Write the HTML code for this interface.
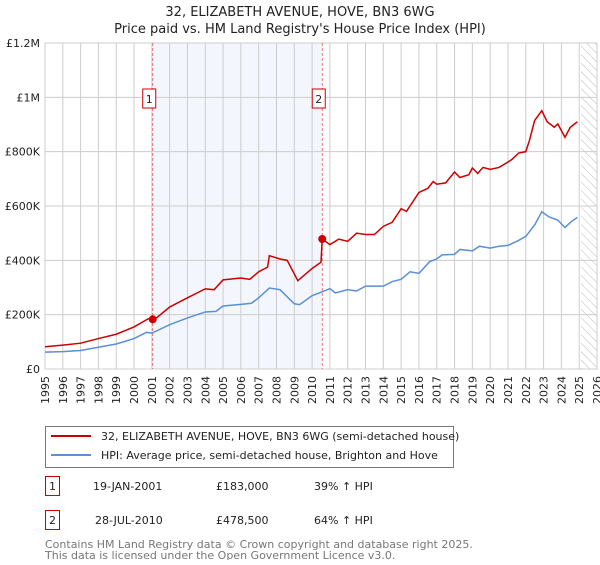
<!DOCTYPE html>
<html><head><meta charset="utf-8"><style>
body{margin:0;background:#fff;font-family:"Liberation Sans","DejaVu Sans",sans-serif;}
svg text{font-family:"DejaVu Sans","Liberation Sans",sans-serif;}
</style></head><body>
<svg id="c" width="600" height="560" xmlns="http://www.w3.org/2000/svg">
<defs><pattern id="hatch" width="6" height="6" patternUnits="userSpaceOnUse" patternTransform="rotate(-45)"><line x1="0" y1="0" x2="0" y2="6" stroke="#bbb" stroke-width="1"/></pattern></defs>
<text x="300" y="16" text-anchor="middle" font-size="13" fill="#222">32, ELIZABETH AVENUE, HOVE, BN3 6WG</text>
<text x="300" y="33" text-anchor="middle" font-size="13" fill="#222">Price paid vs. HM Land Registry's House Price Index (HPI)</text>
<g id="plot"></g>
<g>
<rect x="45.5" y="426.5" width="408" height="41" fill="#fff" stroke="#777"/>
<line x1="51" y1="436" x2="91" y2="436" stroke="#cc0000" stroke-width="2"/>
<text x="101" y="440" font-size="11" fill="#222">32, ELIZABETH AVENUE, HOVE, BN3 6WG (semi-detached house)</text>
<line x1="51" y1="455" x2="91" y2="455" stroke="#5b8fd6" stroke-width="2"/>
<text x="101" y="459" font-size="11" fill="#222">HPI: Average price, semi-detached house, Brighton and Hove</text>
</g>
<g font-size="11" fill="#222">
<rect x="45.5" y="476.5" width="14" height="19" fill="#fff" stroke="#cc0000"/>
<text x="52.5" y="490" text-anchor="middle">1</text>
<text x="93" y="490">19-JAN-2001</text><text x="216" y="490">£183,000</text><text x="314" y="490">39% ↑ HPI</text>
<rect x="45.5" y="510.5" width="14" height="19" fill="#fff" stroke="#cc0000"/>
<text x="52.5" y="524" text-anchor="middle">2</text>
<text x="95" y="524">28-JUL-2010</text><text x="216" y="524">£478,500</text><text x="314" y="524">64% ↑ HPI</text>
</g>
<text x="45" y="548" font-size="11" fill="#777">Contains HM Land Registry data © Crown copyright and database right 2025.</text>
<text x="45" y="559" font-size="11" fill="#777">This data is licensed under the Open Government Licence v3.0.</text>
</svg>
<script>
const yTicks=[0,200,400,600,800,1000,1200];
const yTickLabels=["£0","£200K","£400K","£600K","£800K","£1M","£1.2M"];
const xYears=[1995,1996,1997,1998,1999,2000,2001,2002,2003,2004,2005,2006,2007,2008,2009,2010,2011,2012,2013,2014,2015,2016,2017,2018,2019,2020,2021,2022,2023,2024,2025,2026];
const redT=[1995,1996,1997,1998,1999,2000,2000.8,2001.05,2001.3,2002,2003,2004,2004.5,2005,2006,2006.5,2007,2007.5,2007.6,2008.2,2008.6,2009.2,2010,2010.5,2010.57,2011,2011.5,2012,2012.5,2013,2013.5,2014,2014.5,2015,2015.3,2016,2016.5,2016.8,2017,2017.5,2018,2018.3,2018.8,2019,2019.3,2019.6,2020,2020.5,2021.2,2021.6,2022,2022.2,2022.5,2022.9,2023.2,2023.6,2023.8,2024.2,2024.5,2024.9];
const redV=[82,88,95,112,128,155,185,183,190,228,262,295,292,328,335,330,358,375,417,405,400,325,370,393,478,458,478,470,500,495,495,525,540,590,580,650,665,690,680,685,725,705,715,740,720,742,735,742,770,795,800,840,915,951,910,890,902,853,890,910];
const blueT=[1995,1996,1997,1998,1999,2000,2000.7,2001,2002,2003,2004,2004.6,2005,2006,2006.6,2007,2007.6,2008.2,2009,2009.3,2010,2010.6,2011,2011.3,2012,2012.5,2013,2014,2014.5,2015,2015.5,2016,2016.6,2017,2017.3,2018,2018.3,2019,2019.4,2020,2020.5,2021,2021.5,2022,2022.5,2022.9,2023.3,2023.8,2024.2,2024.6,2024.9];
const blueV=[62,64,68,80,92,112,135,132,163,188,210,212,232,238,242,262,298,292,240,237,270,285,296,280,292,287,305,305,322,330,358,352,395,405,420,422,440,435,452,445,452,455,470,488,530,579,560,548,521,545,558];
const saleT=[2001.05,2010.57];
const saleV=[183,478.5];
const saleLabels=["1","2"];
const X0=45,X1=597,Y0=369,Y1=43;
const x=t=>X0+(t-1995)/(2026-1995)*(X1-X0);
const y=v=>Y0-v/1200*(Y0-Y1);
const NS="http://www.w3.org/2000/svg";
const g=document.getElementById('plot');
function mk(tag,attrs){const e=document.createElementNS(NS,tag);for(const k in attrs)e.setAttribute(k,attrs[k]);g.appendChild(e);return e;}
let e=mk('rect',{x:x(saleT[0]),y:Y1,width:x(saleT[1])-x(saleT[0]),height:Y0-Y1,fill:'#eef3fc',opacity:0.7});


e=mk('rect',{x:x(2025.1),y:Y1,width:X1-x(2025.1),height:Y0-Y1,fill:'url(#hatch)'});


xYears.forEach(yr=>{
 const l=mk('line',{x1:x(yr),x2:x(yr),y1:Y1,y2:Y0,stroke:'#ccc','stroke-width':1});
 
 
 const px=x(yr)+4, py=376;
 const t=mk('text',{x:px,y:py,'text-anchor':'end','font-size':11,fill:'#222',transform:'rotate(-90 '+px+' '+py+')'});
 t.textContent=yr;
 
 
});
yTicks.forEach((v,i)=>{
 const l=mk('line',{x1:X0,x2:X1,y1:y(v),y2:y(v),stroke:'#ccc','stroke-width':1});
 
 
 const t=mk('text',{x:40,y:y(v)+4,'text-anchor':'end','font-size':11,fill:'#222'});
 t.textContent=yTickLabels[i];
 
 
});
e=mk('rect',{x:X0,y:Y1,width:X1-X0,height:Y0-Y1,fill:'none',stroke:'#ccc'});


saleT.forEach((t,i)=>{
 const l=mk('line',{x1:x(t),x2:x(t),y1:Y1,y2:Y0,stroke:'#e55','stroke-width':0.8,'stroke-dasharray':'3,2'});
 
 
 const r=mk('rect',{x:x(t)-10,y:89,width:13,height:19,fill:'#fff',stroke:'#cc0000'});
 
 
 const tx=mk('text',{x:x(t)-3.5,y:103,'text-anchor':'middle','font-size':11,fill:'#222'});
 tx.textContent=saleLabels[i];
 
 
});
e=mk('polyline',{points:blueT.map((t,i)=>x(t)+','+y(blueV[i])).join(' '),fill:'none',stroke:'#5b8fd6','stroke-width':1.5});


e=mk('polyline',{points:redT.map((t,i)=>x(t)+','+y(redV[i])).join(' '),fill:'none',stroke:'#cc0000','stroke-width':1.5});


saleT.forEach((t,i)=>{
 const c=mk('circle',{cx:x(t),cy:y(saleV[i]),r:4,fill:'#cc0000'});
 
 
});
</script>
</body></html>
